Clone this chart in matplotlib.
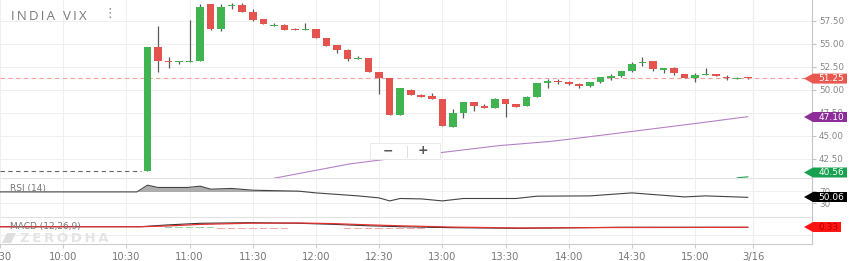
import matplotlib
matplotlib.use("Agg")
import matplotlib.pyplot as plt
from matplotlib.patches import Polygon, Rectangle
from matplotlib.lines import Line2D
import pandas as pd

# ---- data ----
session_start = pd.Timestamp("2020-03-13 09:30")
candle_times = pd.date_range("2020-03-13 10:40", periods=58, freq="5min")

opens = [41.20, 54.67, 53.20, 53.00, 53.05, 53.20, 59.30, 56.60, 59.10, 59.25,
         58.50, 57.70, 56.95, 57.10, 56.65, 56.50, 56.60, 55.60, 54.85, 54.35,
         53.35, 53.45, 52.00, 51.27, 47.28, 50.00, 49.45, 49.38, 49.00, 46.00,
         47.53, 48.66, 48.26, 48.00, 49.00, 48.45, 48.26, 49.20, 50.80, 51.00,
         50.87, 50.65, 50.40, 50.87, 51.27, 51.52, 52.07, 52.90, 53.15, 52.20,
         52.36, 51.70, 51.27, 51.60, 51.74, 51.45, 51.20, 51.32]
highs = [54.70, 57.00, 53.55, 53.12, 57.60, 59.30, 59.35, 59.35, 59.40, 59.40,
         58.75, 57.75, 57.30, 57.20, 56.70, 57.25, 56.60, 55.60, 54.90, 54.50,
         53.70, 53.45, 52.00, 51.27, 50.18, 50.08, 49.60, 49.67, 49.00, 47.90,
         48.66, 48.66, 48.48, 49.13, 49.00, 48.50, 49.35, 50.80, 51.16, 51.20,
         50.95, 50.80, 50.87, 51.38, 51.70, 52.07, 53.00, 53.55, 53.15, 52.35,
         52.50, 51.70, 51.80, 52.36, 51.74, 51.63, 51.45, 51.35]
lows = [41.20, 51.90, 52.40, 52.85, 53.00, 53.20, 56.50, 56.45, 58.80, 58.50,
        57.50, 57.15, 56.95, 56.50, 56.50, 56.50, 55.70, 54.80, 54.05, 53.20,
        53.35, 52.00, 49.57, 47.28, 47.28, 49.42, 49.24, 49.05, 46.10, 46.00,
        47.00, 47.70, 48.00, 48.00, 47.03, 48.20, 48.26, 49.20, 50.25, 50.65,
        50.55, 50.25, 50.30, 50.73, 51.12, 51.41, 51.92, 52.60, 52.07, 51.80,
        51.63, 51.34, 50.84, 51.60, 51.52, 51.12, 51.20, 51.20]
closes = [54.67, 53.15, 53.05, 53.10, 53.20, 59.05, 56.60, 59.00, 59.20, 58.50,
          57.60, 57.20, 57.00, 56.50, 56.50, 56.60, 55.70, 54.80, 54.35, 53.35,
          53.50, 52.00, 51.27, 47.28, 50.18, 49.42, 49.24, 49.05, 46.10, 47.53,
          48.66, 48.30, 48.00, 49.00, 48.48, 48.20, 49.20, 50.80, 50.98, 50.85,
          50.65, 50.43, 50.87, 51.38, 51.52, 52.07, 52.80, 53.07, 52.28, 52.35,
          51.85, 51.34, 51.63, 51.74, 51.52, 51.30, 51.34, 51.25]

prev_close = 41.20
last_price = 51.25

ma_times = ["11:40", "11:52", "12:16", "12:40", "13:04", "13:27", "13:51", "14:05", "14:30", "15:02", "15:25"]
ma_values = [40.40, 40.92, 41.96, 42.66, 43.32, 43.95, 44.40, 44.78, 45.49, 46.41, 47.10]
ma2_times = ["15:20", "15:25"]
ma2_values = [40.45, 40.56]

rsi_times = ["09:30", "10:35", "10:40", "10:45", "10:59", "11:05", "11:10", "11:20", "11:30",
             "11:52", "12:00", "12:20", "12:30", "12:35", "12:40", "12:50", "13:00", "13:10",
             "13:35", "13:45", "14:10", "14:30", "14:40", "14:55", "15:05", "15:25"]
rsi_values = [68.6, 68.6, 91.5, 83.7, 83.7, 88.1, 77.9, 80.3, 74.4,
              71.0, 65.2, 55.0, 48.1, 37.9, 46.1, 44.7, 37.9, 46.1,
              46.1, 54.0, 55.0, 65.2, 59.7, 51.5, 55.0, 50.06]

macd_times = ["09:30", "10:37", "10:49", "11:05", "11:29", "11:52", "12:08", "12:24", "12:40",
              "13:05", "13:37", "14:24", "15:25"]
macd_values = [0.65, 0.65, 1.50, 2.35, 2.65, 2.35, 1.85, 1.15, 0.65, 0.15, -0.15, 0.35, 0.35]
signal_values = [0.65, 0.65, 1.00, 1.80, 2.40, 2.50, 2.20, 1.60, 1.10, 0.45, 0.00, 0.25, 0.33]
hist_times = ["10:50", "10:55", "11:00", "11:05", "11:10", "11:15", "11:20", "11:25", "11:30",
              "11:35", "11:40", "11:45", "12:15", "12:20", "12:25", "12:30", "12:35", "12:40",
              "12:45", "12:50", "12:55", "13:00", "13:05", "13:10"]
hist_values = [0.4, 0.5, 0.4, 0.4, 0.3, -0.3, -0.4, -0.4, -0.4,
               -0.3, -0.3, -0.3, -0.3, -0.4, -0.4, -0.4, -0.4, -0.3,
               -0.3, -0.3, 0.3, 0.3, 0.3, 0.3]

tick_labels = ["9:30", "10:00", "10:30", "11:00", "11:30", "12:00", "12:30",
               "13:00", "13:30", "14:00", "14:30", "15:00"]
price_ticks = [42.5, 45.0, 47.5, 50.0, 52.5, 55.0, 57.5]


def minutes(hhmm):
    h, m = hhmm.split(":")
    t = pd.Timestamp(f"2020-03-13 {int(h):02d}:{m}")
    return (t - session_start).total_seconds() / 60


W, H = 850, 261
GREEN = "#40b450"
RED = "#e4534d"
GRID = "#efefef"

plt.rcParams["font.family"] = ["DejaVu Sans"]
fig = plt.figure(figsize=(8.5, 2.61), dpi=100)


def fig_box(x0, y0, x1, y1):
    return [x0 / W, 1 - y1 / H, (x1 - x0) / W, (y1 - y0) / H]


ax = fig.add_axes(fig_box(0, 0, 812, 178))
ax_rsi = fig.add_axes(fig_box(0, 178, 812, 217), sharex=ax)
ax_macd = fig.add_axes(fig_box(0, 217, 812, 244), sharex=ax)

x_candles = [(t - session_start).total_seconds() / 60 for t in candle_times]
next_day = 357.5

# ---- price panel ----
for x, o, h, l, c in zip(x_candles, opens, highs, lows, closes):
    col = GREEN if c >= o else RED
    ax.vlines(x, l, h, color="#5a5a5a", lw=0.9, zorder=2)
    ax.bar(x, max(abs(c - o), 0.14), bottom=min(o, c), width=3.6, color=col, zorder=3, lw=0)

ax.axhline(last_price, color="#f2a19c", lw=0.8, ls=(0, (4, 3)), zorder=1)
ax.plot([0, x_candles[0] - 3], [prev_close, prev_close], color="#666666", lw=0.8, ls=(0, (4, 3)))
ax.plot([minutes(t) for t in ma_times], ma_values, color="#b681c8", lw=0.8)
ax.plot([minutes(t) for t in ma2_times], ma2_values, color="#1aa351", lw=0.8)

ax.set_xlim(0, 385.5)
ax.set_ylim(40.43, 59.78)
ax.set_yticks(price_ticks)
ax.set_yticklabels([f"{v:.2f}" for v in price_ticks])
ax.yaxis.tick_right()

# ---- RSI panel ----
rx = [minutes(t) for t in rsi_times]
ax_rsi.plot(rx, rsi_values, color="#444444", lw=0.8, zorder=3)
ax_rsi.fill_between(rx, rsi_values, 70, where=[v > 70 for v in rsi_values],
                    interpolate=True, color="#9a9a9a", alpha=0.8, lw=0)
ax_rsi.set_ylim(-17, 116)
ax_rsi.set_yticks([30, 70])
ax_rsi.yaxis.tick_right()

# ---- MACD panel ----
mx = [minutes(t) for t in macd_times]
hx = [minutes(t) for t in hist_times]
ax_macd.bar(hx, hist_values, width=3.6, color=["#98d7a4" if v > 0 else "#f5a9a6" for v in hist_values], lw=0)
ax_macd.plot(mx, macd_values, color="#333333", lw=0.8, zorder=3)
ax_macd.plot(mx, signal_values, color="#e53030", lw=0.9, zorder=4)
ax_macd.set_ylim(-8, 5.5)
ax_macd.set_yticks([-3.5])
ax_macd.yaxis.tick_right()

xt = [minutes(s) for s in tick_labels] + [next_day]
ax_macd.set_xticks(xt)
ax_macd.set_xticklabels(tick_labels + ["3/16"])

for a in (ax, ax_rsi, ax_macd):
    a.grid(True, color=GRID, lw=0.7)
    a.set_axisbelow(True)
    a.axvline(next_day, color="#d6d6d6", lw=0.8, zorder=0)
    a.spines["top"].set_visible(False)
    a.spines["left"].set_visible(False)
    a.spines["right"].set_color("#c4c4c4")
    a.spines["bottom"].set_color("#e2e2e2")
    a.tick_params(axis="y", length=3, color="#c4c4c4", labelsize=6.3, labelcolor="#888888", pad=2)
    a.patch.set_alpha(0)
ax_macd.tick_params(axis="y", labelright=False, length=0)
ax_macd.spines["bottom"].set_color("#cccccc")
for a in (ax, ax_rsi):
    a.tick_params(axis="x", length=0, labelbottom=False)
ax_macd.tick_params(axis="x", length=3, color="#cccccc", labelsize=7.2, labelcolor="#777777", pad=2.5)

# ---- labels and overlays ----
def px(x, y):
    return x / W, 1 - y / H


fig.text(*px(11, 16), "\u2009".join("INDIA VIX"), fontsize=9.5, color="#7a7a7a", va="center", ha="left",
         family=["Open Sans", "DejaVu Sans"])
fig.text(*px(110, 13), "⋮", fontsize=9, color="#888888", va="center", ha="center")
fig.text(*px(10, 188), "RSI (14)", fontsize=6.5, color="#777777", va="center", ha="left")
fig.text(*px(10, 226), "MACD (12,26,9)", fontsize=6.5, color="#777777", va="center", ha="left", zorder=0)
fig.text(*px(20, 238), "\u2009".join("ZERODHA"), fontsize=9.5, color="#e4e4e4", va="center", ha="left",
         fontweight="bold")
fig.add_artist(Polygon([px(2, 243), px(7, 233), px(16, 233), px(11, 243)], closed=True,
                       transform=fig.transFigure, facecolor="#dedede", lw=0))

# zoom buttons
fig.add_artist(Rectangle(px(370, 159), 70 / W, 16 / H, transform=fig.transFigure,
                         facecolor="white", edgecolor="#e6e6e6", lw=0.6, zorder=10))
fig.add_artist(Line2D([407 / W, 407 / W], [1 - 146 / H, 1 - 157 / H], transform=fig.transFigure,
                      color="#dddddd", lw=0.7, zorder=11))
fig.text(*px(388, 151), "−", fontsize=9, color="#555555", ha="center", va="center", fontweight="bold", zorder=12)
fig.text(*px(423, 151), "+", fontsize=9, color="#555555", ha="center", va="center", fontweight="bold", zorder=12)


def tag(yc, text, face, textcolor="white", right=847):
    pts = [px(804, yc), px(813, yc - 5), px(right, yc - 5), px(right, yc + 5), px(813, yc + 5)]
    fig.add_artist(Polygon(pts, closed=True, transform=fig.transFigure, facecolor=face, lw=0, zorder=20))
    fig.text(*px((813 + right) / 2 + 1, yc), text, fontsize=6.5, color=textcolor, ha="center", va="center",
             zorder=21)


tag(78.6, "51.25", "#e9574f")
tag(117, "47.10", "#8c2d99")
tag(172.5, "40.56", "#18a150")
tag(197, "50.06", "#000000")
tag(227, "0.33", "#ff1414", textcolor="#b30000", right=841)

fig.savefig("out.png", dpi=100)
